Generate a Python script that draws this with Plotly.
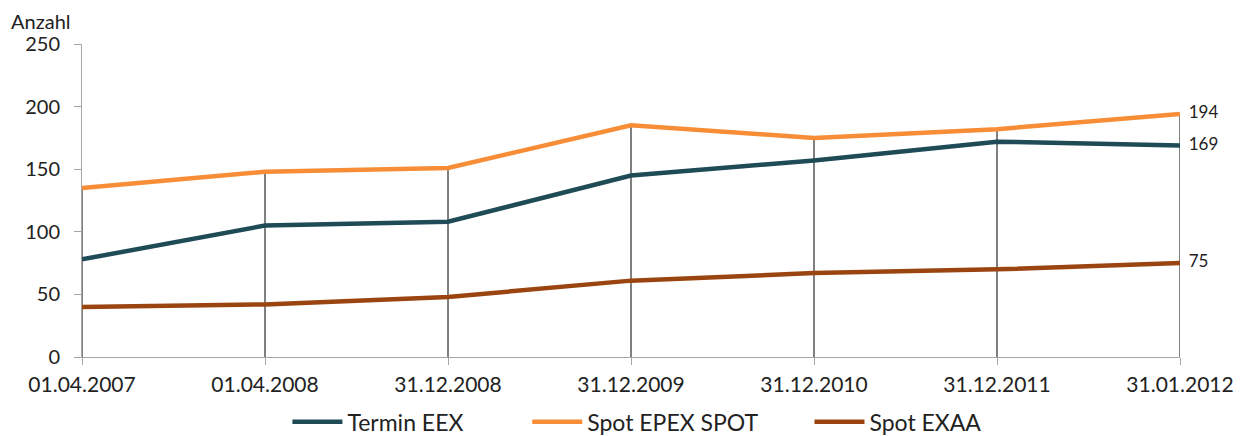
import plotly.graph_objects as go

categories = ["01.04.2007", "01.04.2008", "31.12.2008", "31.12.2009", "31.12.2010", "31.12.2011", "31.01.2012"]
termin_eex = [78, 105, 108, 145, 157, 172, 169]
spot_epex = [135, 148, 151, 185, 175, 182, 194]
spot_exaa = [40, 42, 48, 61, 67, 70, 75]
y_ticks = [0, 50, 100, 150, 200, 250]

NB = "\u00a0"
series = [
    ("Termin EEX", termin_eex, "#1e4b56", 10),
    ("Spot EPEX SPOT", spot_epex, "#f78d36", 8),
    ("Spot EXAA", spot_exaa, "#9a4510", 0),
]

FONT = "Lato"
TXT = "#222222"
fig = go.Figure()

# drop lines from axis to highest value at each category
dx, dy = [], []
for i, c in enumerate(categories):
    top = max(s[1][i] for s in series)
    dx += [c, c, None]
    dy += [0, top, None]
fig.add_trace(go.Scatter(x=dx, y=dy, mode="lines", line=dict(color="#000000", width=1),
                         showlegend=False, hoverinfo="skip"))

for name, vals, col, pad in series:
    fig.add_trace(go.Scatter(x=categories, y=vals, mode="lines", name=name + NB * pad,
                             line=dict(color=col, width=4.5)))

# end labels
for name, vals, col, pad in series:
    fig.add_trace(go.Scatter(x=[categories[-1]], y=[vals[-1]], mode="text",
                             text=[f"  {vals[-1]}"], textposition="middle right",
                             textfont=dict(family=FONT, size=17, color=TXT),
                             showlegend=False, cliponaxis=False, hoverinfo="skip"))

fig.update_layout(
    width=1238, height=428,
    margin=dict(l=74, r=66, t=36, b=79),
    plot_bgcolor="white", paper_bgcolor="white",
    font=dict(family=FONT, size=21, color=TXT),
    legend=dict(orientation="h", xref="container", yref="container",
                x=0.508, xanchor="center", y=0.033, yanchor="middle",
                font=dict(family=FONT, size=23, color=TXT), traceorder="normal",
                itemwidth=50),
    annotations=[dict(text="Anzahl", xref="paper", yref="paper", x=0, y=1, xshift=-72,
                      yshift=36, xanchor="left", yanchor="top", showarrow=False,
                      borderpad=0, font=dict(family=FONT, size=20, color=TXT))],
)
fig.update_xaxes(type="category", categoryorder="array", categoryarray=categories,
                 range=[0, 6], showgrid=False, showline=True, linecolor="#a6a6a6", linewidth=1,
                 ticks="outside", ticklen=7, tickcolor="#a6a6a6", zeroline=False,
                 automargin=False, ticklabelstandoff=2,
                 tickfont=dict(family=FONT, size=21, color=TXT))
fig.update_yaxes(range=[0, 250], tickvals=y_ticks, showgrid=False, showline=True,
                 linecolor="#a6a6a6", linewidth=1, ticks="outside", ticklen=7,
                 tickcolor="#a6a6a6", zeroline=False, automargin=False,
                 ticklabelstandoff=10,
                 tickfont=dict(family=FONT, size=20, color=TXT))

fig.write_html("out.html")
